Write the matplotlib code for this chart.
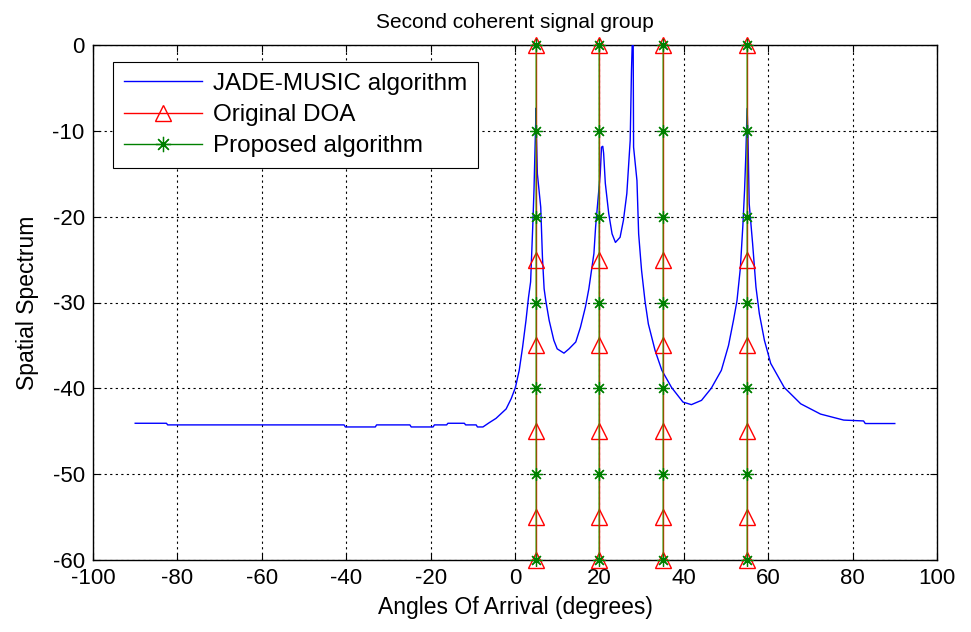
import matplotlib
matplotlib.use("Agg")
import matplotlib.pyplot as plt
from matplotlib.lines import Line2D
import numpy as np

# ---- data ----
jade_x = [-90, -82.6, -82.3, -40.5, -40.2, -33.1, -32.8, -24.9, -24.6, -19.4, -19.1,
          -16.2, -15.9, -12.0, -11.7, -9.2, -8.9, -7.6, -7.0, -6.1, -4.5, -2.1, -0.9,
          0.1, 1.0, 1.8, 2.6, 3.2, 3.7, 4.2, 4.5, 4.8, 5.0, 5.1, 5.3, 6.1, 6.5, 6.9,
          7.3, 8.1, 9.2, 10.0, 11.6, 12.8, 14.4, 15.5, 16.7, 17.5, 18.7, 19.1, 20.2,
          20.5, 20.8, 21.0, 21.4, 22.2, 23.0, 23.8, 24.9, 25.7, 26.5, 27.3, 27.6,
          27.8, 28.0, 28.1, 28.9, 29.3, 29.8, 30.0, 30.8, 31.6, 33.2, 34.8, 37.1,
          39.8, 41.8, 44.2, 46.5, 48.9, 50.6, 51.8, 52.6, 53.4, 54.0, 54.4, 54.7,
          55.0, 55.2, 55.5, 56.3, 57.1, 57.9, 59.1, 60.6, 63.8, 67.7, 72.4, 77.9,
          82.6, 83.0, 90.0]
jade_y = [-44.07, -44.07, -44.26, -44.26, -44.5, -44.5, -44.26, -44.26, -44.5, -44.5, -44.26,
          -44.26, -44.07, -44.07, -44.26, -44.26, -44.5, -44.5, -44.3, -44.0, -43.5, -42.4, -41.2,
          -39.9, -37.9, -35.2, -32.1, -29.4, -27.6, -21.2, -16.9, -11.0, -7.35, -11.0, -15.0, -18.9, -24.7, -28.4,
          -29.8, -32.1, -34.4, -35.4, -35.9, -35.4, -34.6, -32.9, -30.5, -28.4, -24.3, -21.2, -15.0,
          -11.9, -11.8, -12.6, -16.1, -19.6, -22.0, -23.0, -22.4, -20.4, -17.3, -11.1, -3.0,
          0.5, 0.5, -11.9, -15.8, -22.0, -25.1, -26.3, -29.8, -32.5, -35.6, -37.9, -39.9,
          -41.6, -41.9, -41.4, -40.0, -37.9, -35.0, -32.0, -29.8, -26.0, -21.0, -16.9, -12.8,
          -7.4, -10.5, -18.5, -23.1, -28.2, -31.3, -34.4, -37.1, -39.9, -41.8, -43.0, -43.7,
          -43.8, -44.1, -44.1]

doa_angles = [5, 20, 35, 55]
original_levels = [0, -25, -35, -45, -55, -60]
proposed_levels = [0, -10, -20, -30, -40, -50, -60]

x_ticks = [-100, -80, -60, -40, -20, 0, 20, 40, 60, 80, 100]
y_ticks = [-60, -50, -40, -30, -20, -10, 0]

title = "Second coherent signal group"
xlabel = "Angles Of Arrival (degrees)"
ylabel = "Spatial Spectrum"
labels = ["JADE-MUSIC algorithm", "Original DOA", "Proposed algorithm"]

# ---- plot ----
plt.rcParams['font.family'] = ['Liberation Sans', 'DejaVu Sans']
plt.rcParams['axes.unicode_minus'] = False
fig = plt.figure(figsize=(9.71, 6.32), dpi=100)
ax = fig.add_axes([93/971, 1-560/632, (937-93)/971, (560-45)/632])

ax.plot(jade_x, jade_y, color='#0000ff', lw=1.0, zorder=3)

asterisk = (8, 2, 0)
for a in doa_angles:
    ax.plot([a]*len(original_levels), original_levels, color='red', lw=1.0,
            marker='^', markersize=11, markerfacecolor='none', markeredgecolor='red',
            markeredgewidth=1.0, zorder=4, clip_on=False)
for a in doa_angles:
    ax.plot([a]*len(proposed_levels), proposed_levels, color=(0.0, 0.75, 0.0, 0.55), lw=1.2,
            marker=asterisk, markersize=9, markeredgecolor='#008000',
            markeredgewidth=0.9, zorder=5, clip_on=False)

ax.set_xlim(-100, 100)
ax.set_ylim(-60, 0)
ax.set_xticks(x_ticks)
ax.set_yticks(y_ticks)
ax.grid(True, color='black', linestyle=(0, (2, 3)), linewidth=0.8)
ax.tick_params(direction='in', top=True, right=True, length=5, width=0.8,
               labelsize=16, pad=6)
for s in ax.spines.values():
    s.set_linewidth(1.0)

ax.set_title(title, fontsize=15, pad=12)
ax.set_xlabel(xlabel, fontsize=16.5, labelpad=5)
ax.set_ylabel(ylabel, fontsize=16.5, labelpad=10)

handles = [
    Line2D([], [], color='#0000ff', lw=1.0),
    Line2D([], [], color='red', lw=1.0, marker='^', markersize=11,
           markerfacecolor='none', markeredgecolor='red'),
    Line2D([], [], color='#008000', lw=1.0, marker=asterisk, markersize=11,
           markeredgecolor='#008000', markeredgewidth=0.9),
]
leg = ax.legend(handles, labels, loc='upper left', bbox_to_anchor=(20/844, 1-17/515),
                borderaxespad=0, fontsize=17.5, handlelength=3.2, labelspacing=0.38,
                fancybox=False, framealpha=1, edgecolor='black', borderpad=0.45,
                handletextpad=0.45)
leg.get_frame().set_linewidth(0.8)

fig.savefig("out.png", dpi=100)
